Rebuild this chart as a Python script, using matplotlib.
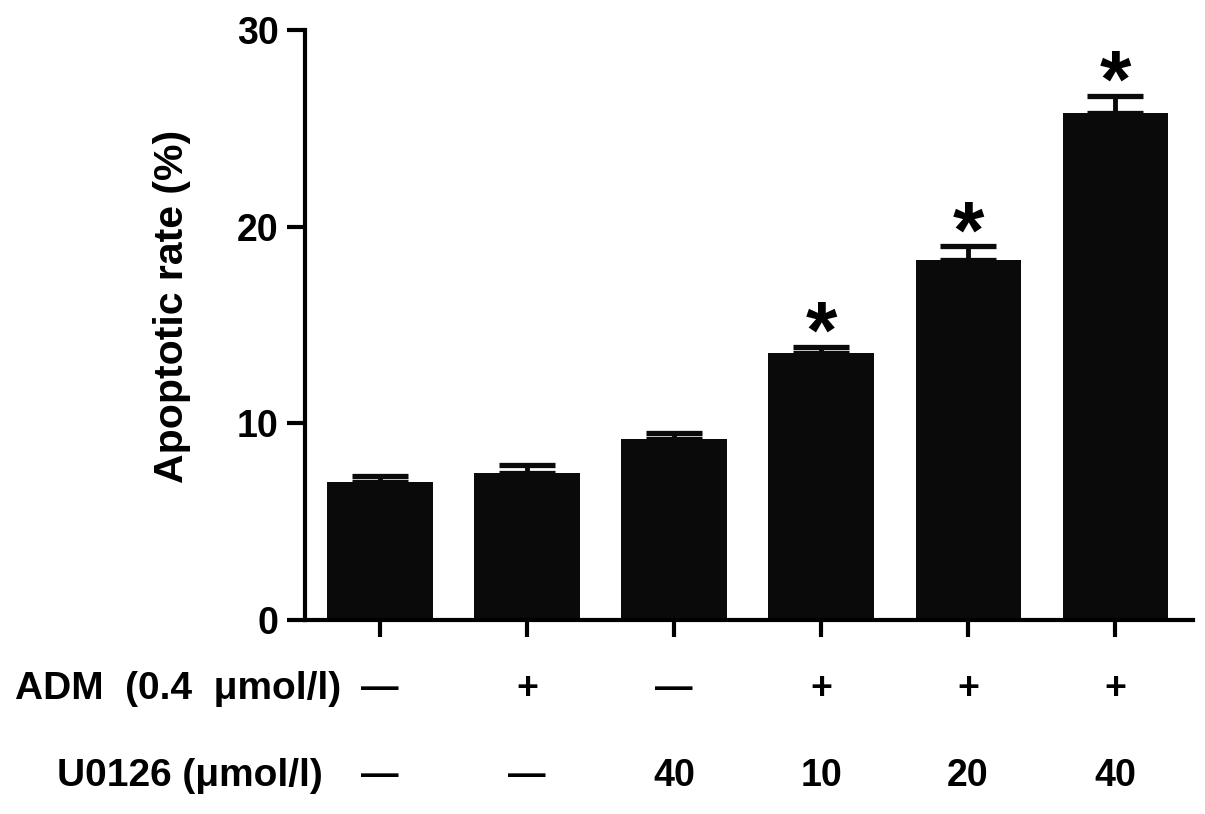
import matplotlib
matplotlib.use("Agg")
import matplotlib.pyplot as plt
import matplotlib.transforms as mtransforms

plt.rcParams['font.family'] = ['Liberation Sans', 'DejaVu Sans']
plt.rcParams['font.weight'] = 'bold'

# Data
groups = ['G1', 'G2', 'G3', 'G4', 'G5', 'G6']
means = [7.0, 7.5, 9.2, 13.6, 18.3, 25.8]
errs = [0.3, 0.4, 0.3, 0.3, 0.7, 0.85]
significant = [False, False, False, True, True, True]
adm_row = ['—', '+', '—', '+', '+', '+']
u0126_row = ['—', '—', '40', '10', '20', '40']
adm_label = 'ADM  (0.4  μmol/l)'
u0126_label = 'U0126 (μmol/l)'
ylabel = 'Apoptotic rate (%)'
yticks = [0, 10, 20, 30]

W, H = 1205, 814
fig = plt.figure(figsize=(W / 100, H / 100), dpi=100)
ax = fig.add_axes([305 / W, 1 - 620 / H, (1193 - 305) / W, (620 - 30) / H])

xpos = list(range(len(groups)))
bar_color = '#0a0a0a'
ax.bar(xpos, means, width=0.715, color=bar_color, edgecolor=bar_color, linewidth=0, zorder=2)
ax.errorbar(xpos, means, yerr=[[0] * len(errs), errs], fmt='none', ecolor=bar_color,
            elinewidth=3.5, capsize=20, capthick=3.8, zorder=1)

for x, m, e, s in zip(xpos, means, errs, significant):
    if s:
        ax.annotate('*', xy=(x, m + e), xytext=(0, -20), textcoords='offset points',
                    ha='center', va='bottom', fontsize=58, fontweight='bold', color='black')

ax.set_xlim(-0.51, 5.53)
ax.set_ylim(0, 30)
ax.set_yticks(yticks)
ax.set_yticklabels([str(t) for t in yticks], fontsize=27, fontweight='bold')
ax.set_xticks(xpos)
ax.set_xticklabels([])
for side in ['top', 'right']:
    ax.spines[side].set_visible(False)
for side in ['left', 'bottom']:
    ax.spines[side].set_linewidth(3)
ax.tick_params(axis='y', direction='out', length=13, width=3, pad=6)
ax.tick_params(axis='x', direction='out', length=12, width=3)

fig.text(172 / W, 1 - 306 / H, ylabel, rotation=90, ha='center', va='center',
         fontsize=29.5, fontweight='bold')

trans = mtransforms.blended_transform_factory(ax.transData, fig.transFigure)
y_adm = 1 - 689 / H
y_u = 1 - 776 / H
fig.text(178 / W, y_adm, adm_label, ha='center', va='center', fontsize=28, fontweight='bold')
fig.text(190 / W, y_u, u0126_label, ha='center', va='center', fontsize=28, fontweight='bold')
for x, a, u in zip(xpos, adm_row, u0126_row):
    ax.text(x, y_adm, a, transform=trans, ha='center', va='center', fontsize=27, fontweight='bold')
    ax.text(x, y_u, u, transform=trans, ha='center', va='center', fontsize=27, fontweight='bold')

fig.savefig('out.png', dpi=100)
